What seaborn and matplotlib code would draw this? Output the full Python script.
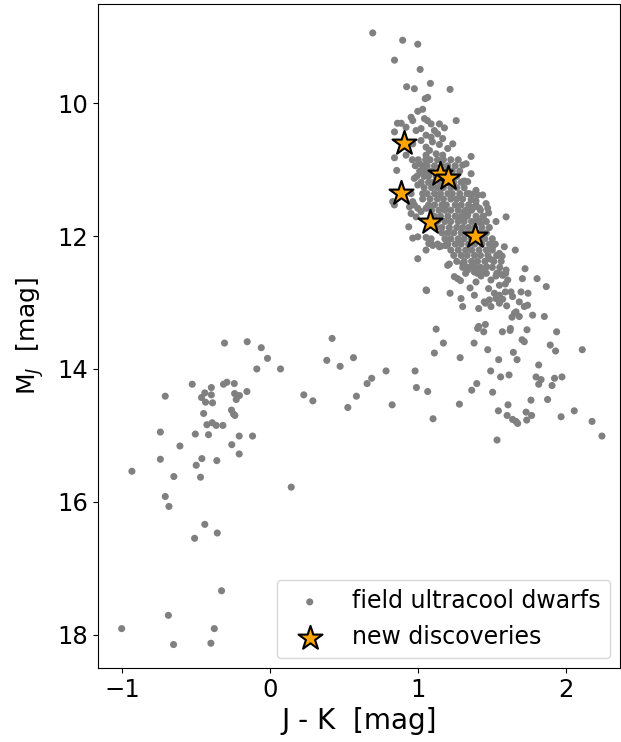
import matplotlib
matplotlib.use('Agg')
import matplotlib.pyplot as plt
import seaborn as sns
import pandas as pd

plt.rcParams['font.family'] = ['DejaVu Sans']

# ---- field ultracool dwarfs: sparse points around the top of the sequence ----
top_x = [0.693, 0.895, 0.997, 0.840, 1.013, 1.082, 0.922, 0.974, 1.215, 1.047, 1.064, 0.997, 1.030,
         1.256, 0.952, 0.963, 1.042, 1.062, 0.860, 0.885, 0.918, 1.087, 1.143, 1.177, 0.986, 1.019,
         1.109, 1.131, 0.840, 1.053, 1.087, 1.165, 1.019, 0.963, 1.096, 1.143, 1.233, 1.199, 1.053,
         1.076, 1.357, 0.840, 0.918, 1.121, 1.165]
top_y = [8.94, 9.05, 9.11, 9.35, 9.49, 9.70, 9.75, 9.78, 9.79, 9.93, 9.91, 10.12, 10.09,
         10.26, 10.21, 10.26, 10.23, 10.26, 10.30, 10.30, 10.36, 10.31, 10.31, 10.37, 10.41, 10.38,
         10.41, 10.46, 10.43, 10.48, 10.51, 10.53, 10.56, 10.61, 10.58, 10.62, 10.61, 10.68, 10.66,
         10.71, 10.80, 10.82, 10.78, 10.76, 10.78]

# ---- edges of the dense M/L band ----
edge_x = [0.855, 0.974, 0.828, 0.941, 0.936, 0.963, 0.997, 0.997, 1.053, 1.087, 1.143, 1.183, 1.199,
          1.323, 1.300, 1.357, 1.300, 1.390, 1.435, 1.458, 1.379, 1.413, 1.469, 1.525, 1.593, 1.502,
          1.581, 1.655, 1.536, 1.593, 1.312, 1.334, 1.345, 1.379, 1.401, 1.357, 1.390, 1.475, 1.312,
          1.334, 1.435, 1.390, 1.424, 1.548, 1.566, 1.480, 1.502, 1.435, 1.334, 1.379, 1.053, 1.087,
          1.071, 1.098, 1.131, 1.154, 1.188, 1.053, 1.053, 1.008, 1.030, 0.997, 0.952, 1.030, 0.839,
          0.963, 0.974, 0.997, 1.019, 1.053, 0.952, 0.986]
edge_y = [11.01, 11.13, 11.48, 11.56, 11.86, 12.03, 12.01, 12.34, 12.21, 12.11, 12.16, 12.14, 12.44,
          10.91, 10.93, 11.06, 11.18, 11.31, 11.38, 11.51, 11.56, 11.58, 11.58, 11.78, 11.71, 12.16,
          12.16, 12.21, 12.29, 12.51, 11.17, 11.18, 11.36, 11.36, 11.38, 11.45, 11.47, 11.65, 11.63,
          11.68, 11.71, 11.78, 11.81, 12.26, 12.30, 12.34, 12.36, 12.51, 12.51, 12.54, 12.02, 12.04,
          12.11, 12.14, 12.12, 12.15, 12.14, 12.81, 10.78, 10.91, 11.06, 11.23, 11.36, 11.36, 11.53,
          11.48, 11.53, 11.58, 11.63, 11.58, 11.66, 11.71]

# ---- dense core of the M/L band (rows of M_J, J-K values along each row) ----
core_rows_y = [10.85, 10.94, 11.02, 11.10, 11.19, 11.27, 11.36, 11.44, 11.53, 11.61, 11.70,
               11.78, 11.87, 11.95, 12.04, 12.12, 12.21, 12.29, 12.38, 12.47, 12.56]
core_rows_x = [
    [0.96, 1.00, 1.05, 1.08, 1.13, 1.17, 1.22, 1.27],
    [0.98, 1.03, 1.06, 1.11, 1.16, 1.20, 1.25],
    [1.01, 1.05, 1.09, 1.14, 1.18, 1.23, 1.28],
    [0.99, 1.04, 1.07, 1.12, 1.16, 1.21, 1.26],
    [1.02, 1.07, 1.10, 1.15, 1.19, 1.24, 1.29],
    [1.04, 1.09, 1.13, 1.17, 1.22, 1.26, 1.31],
    [1.06, 1.11, 1.15, 1.20, 1.23, 1.28, 1.33],
    [1.03, 1.08, 1.13, 1.17, 1.22, 1.26, 1.30, 1.36],
    [1.07, 1.11, 1.16, 1.19, 1.25, 1.29, 1.34, 1.39],
    [1.09, 1.14, 1.18, 1.22, 1.27, 1.32, 1.36, 1.42],
    [1.11, 1.15, 1.20, 1.25, 1.29, 1.33, 1.39, 1.44],
    [1.13, 1.18, 1.22, 1.27, 1.31, 1.36, 1.41, 1.46],
    [1.12, 1.16, 1.21, 1.26, 1.30, 1.34, 1.38, 1.43, 1.48],
    [1.16, 1.20, 1.24, 1.29, 1.33, 1.37, 1.42, 1.46],
    [1.18, 1.22, 1.27, 1.31, 1.36, 1.40, 1.45, 1.50],
    [1.20, 1.25, 1.29, 1.34, 1.38, 1.43, 1.48, 1.52],
    [1.22, 1.27, 1.32, 1.36, 1.41, 1.46, 1.50],
    [1.24, 1.29, 1.33, 1.38, 1.42, 1.47, 1.53],
    [1.26, 1.31, 1.36, 1.40, 1.45, 1.51, 1.56],
    [1.30, 1.35, 1.42, 1.50, 1.55],
    [1.32, 1.40, 1.46, 1.53, 1.59],
]

# ---- lower part of the M/L band ----
low_x = [1.210, 1.300, 1.323, 1.379, 1.462, 1.390, 1.244, 1.266, 1.285, 1.390, 1.424, 1.350, 1.379,
         1.475, 1.491, 1.525, 1.548, 1.570, 1.548, 1.588, 1.604, 1.514, 1.548, 1.588, 1.626, 1.525,
         1.570, 1.446, 1.480, 1.453, 1.491, 1.548, 1.597, 1.637]
low_y = [12.42, 12.41, 12.46, 12.44, 12.46, 12.49, 12.61, 12.64, 12.67, 12.69, 12.60, 12.78, 12.89,
         12.79, 12.66, 12.60, 12.56, 12.59, 12.74, 12.72, 12.66, 12.86, 12.89, 12.84, 12.84, 12.94,
         12.95, 12.99, 12.96, 13.01, 13.06, 13.01, 13.05, 12.91]

# ---- late L / T transition (sparse, right) ----
lt_x = [1.057, 1.215, 1.289, 1.300, 1.408, 1.721, 1.802, 1.864, 1.703, 1.694, 1.741, 1.682, 1.716,
        1.738, 1.660, 1.649, 1.682, 1.633, 1.772, 1.851, 1.121, 1.408, 1.401, 1.453, 1.442, 1.568,
        1.622, 1.620, 1.734, 1.934, 1.170, 1.377, 1.701, 1.716, 1.891, 1.927, 2.107, 1.109, 1.469,
        1.283, 1.642, 1.543, 1.667, 1.489, 1.813, 1.556, 1.613, 1.795, 1.829, 1.813, 1.920, 1.970,
        1.903, 1.395, 1.361, 1.502, 1.278, 1.606, 1.541, 1.761, 1.873, 1.100, 1.600, 1.637, 1.660,
        1.671, 1.728, 1.765, 1.732, 1.964, 2.053, 2.173, 2.240, 1.532]
lt_y = [12.82, 12.86, 12.94, 13.06, 13.09, 12.49, 12.64, 12.76, 12.64, 12.84, 12.86, 12.99, 13.06,
        13.04, 13.14, 13.16, 13.21, 13.22, 13.19, 13.21, 13.40, 13.36, 13.39, 13.33, 13.44, 13.44,
        13.39, 13.42, 13.41, 13.44, 13.61, 13.61, 13.56, 13.59, 13.64, 13.73, 13.71, 13.76, 13.71,
        13.83, 13.75, 13.86, 13.86, 14.03, 13.94, 14.12, 14.09, 14.12, 14.16, 14.23, 14.14, 14.12,
        14.25, 14.22, 14.32, 14.35, 14.53, 14.54, 14.63, 14.47, 14.46, 14.75, 14.70, 14.76, 14.79,
        14.82, 14.65, 14.70, 14.77, 14.72, 14.63, 14.79, 15.01, 15.07]

# ---- middle T dwarfs ----
mid_x = [0.419, 0.383, 0.473, 0.563, 0.228, 0.289, 0.655, 0.686, 0.783, 0.583, 0.525, 0.824, 0.979,
         0.988, 1.064]
mid_y = [13.54, 13.87, 13.96, 13.83, 14.39, 14.48, 14.22, 14.14, 14.03, 14.41, 14.58, 14.54, 14.03,
         14.28, 14.34]

# ---- blue T dwarfs (left) ----
blue_x = [-0.307, -0.154, -0.059, -0.017, -0.089, 0.071, -0.525, -0.314, -0.291, -0.241, -0.396,
          -0.440, -0.396, -0.462, -0.435, -0.388, -0.239, -0.206, -0.228, -0.156, -0.707, -0.260,
          -0.246, -0.237, -0.448, -0.426, -0.390, -0.363, -0.318, -0.740, -0.504, -0.415, -0.208,
          -0.118, -0.608, -0.258, -0.208, -0.740, -0.460, -0.498, -0.359, -0.932, -0.649, -0.469,
          0.143, -0.707, -0.682, -0.440, -0.356, -0.509, -0.327, -0.686, -1.001, -0.376, -0.651,
          -0.399]
blue_y = [13.61, 13.59, 13.68, 13.84, 14.00, 14.00, 14.23, 14.23, 14.20, 14.22, 14.28,
          14.36, 14.39, 14.43, 14.50, 14.51, 14.37, 14.40, 14.46, 14.34, 14.41, 14.62,
          14.68, 14.70, 14.67, 14.84, 14.81, 14.85, 14.85, 14.95, 14.98, 14.99, 15.01,
          15.01, 15.16, 15.14, 15.28, 15.36, 15.35, 15.45, 15.38, 15.54, 15.62, 15.63,
          15.78, 15.92, 16.07, 16.34, 16.47, 16.55, 17.34, 17.71, 17.91, 17.91, 18.15,
          18.13]

# ---- new discoveries ----
new_x = [0.907, 1.150, 1.200, 0.887, 1.080, 1.386]
new_y = [10.60, 11.07, 11.13, 11.35, 11.79, 12.00]

core_x = [x for row in core_rows_x for x in row]
core_y = [y for row, y in zip(core_rows_x, core_rows_y) for _ in row]

field = pd.DataFrame({
    'jk': top_x + edge_x + core_x + low_x + lt_x + mid_x + blue_x,
    'mj': top_y + edge_y + core_y + low_y + lt_y + mid_y + blue_y,
})
new = pd.DataFrame({'jk': new_x, 'mj': new_y})

fig = plt.figure(figsize=(6.21, 7.42), dpi=100)
ax = fig.add_axes([0.158, 0.1, 0.84, 0.895])

sns.scatterplot(data=field, x='jk', y='mj', color='grey', s=26, edgecolor='none',
                label='field ultracool dwarfs', ax=ax, zorder=2)
sns.scatterplot(data=new, x='jk', y='mj', marker='*', s=330, color='orange',
                edgecolor='black', linewidth=1.5, label='new discoveries', ax=ax, zorder=3)

ax.set_xlim(-1.16, 2.36)
ax.set_ylim(18.5, 8.5)
ax.set_xticks([-1, 0, 1, 2])
ax.set_yticks([10, 12, 14, 16, 18])
ax.tick_params(labelsize=17.5)
ax.set_xlabel('J - K  [mag]', fontsize=20)
ax.set_ylabel('M$_J$  [mag]', fontsize=18, labelpad=8)
ax.legend(loc='lower right', fontsize=17, borderaxespad=0.4)

fig.savefig('out.png', dpi=100)
